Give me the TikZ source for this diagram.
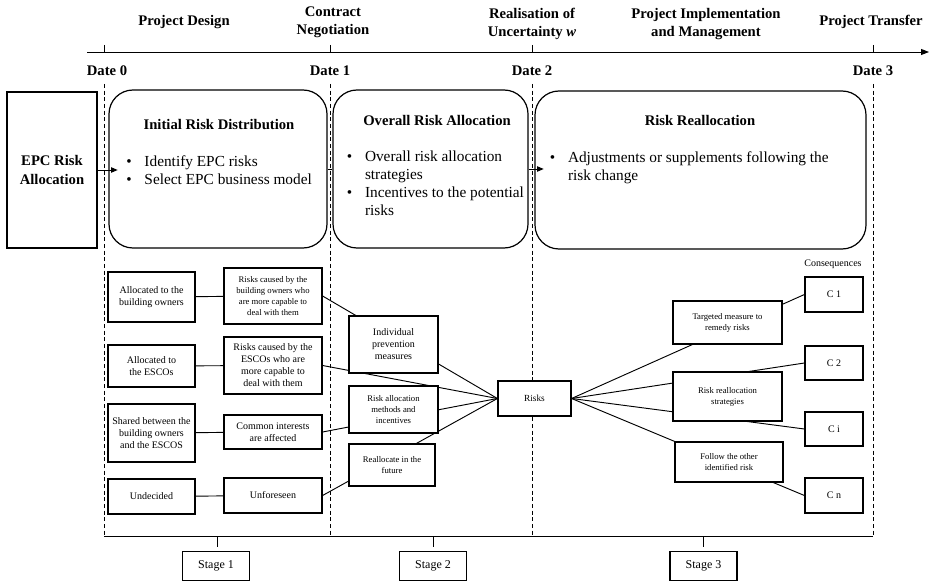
\documentclass[tikz,border=0pt]{standalone}
\usepackage{fontspec}
\setmainfont{Liberation Serif}
\usetikzlibrary{arrows.meta}

\begin{document}
\begin{tikzpicture}[x=0.75pt, y=-0.75pt, line width=0.7pt,
  wh/.style 2 args={minimum width=#1*0.75pt, minimum height=#2*0.75pt},
  head/.style={font=\fontsize{11}{13.5}\selectfont\bfseries, align=center, inner sep=0pt},
  bigbox/.style={draw, line width=0.9pt, rounded corners=18pt},
  boxtitle/.style={font=\fontsize{11}{13.5}\selectfont\bfseries, inner sep=0pt},
  items/.style={font=\fontsize{11.5}{13.5}\selectfont, anchor=base west, inner sep=0pt},
  box/.style={draw, line width=0.9pt, fill=white, align=center, inner sep=1pt, font=\fontsize{7.5}{9}\selectfont},
  smallbox/.style={box, font=\fontsize{6.5}{8.2}\selectfont},
  stagebox/.style={draw, line width=0.9pt, font=\fontsize{9}{11}\selectfont, wh={67}{29}},
  arrow/.style={-{Triangle[length=5pt,width=4pt]}, shorten >=-7pt},
  guide/.style={dash pattern=on 3pt off 2pt}
]
\useasboundingbox (0,0) rectangle (936,581);

\node[head] (Design) at (184,22) {Project Design};
\node[head] (Negotiation) at (333,22) {Contract\\Negotiation};
\node[head] (Uncertainty) at (532,24) {Realisation of\\Uncertainty \textit{w}};
\node[head] (Implementation) at (706,24) {Project Implementation\\and Management};
\node[head] (Transfer) at (871,22) {Project Transfer};

\node[head] (Date0) at (107,71) {Date 0};
\node[head] (Date1) at (330,71) {Date 1};
\node[head] (Date2) at (532,71) {Date 2};
\node[head] (Date3) at (873,71) {Date 3};

\coordinate (TimeStart) at (87,52);
\coordinate (TimeEnd) at (929,52);
\draw[-{Triangle[length=6pt,width=4.5pt]}] (TimeStart) -- (TimeEnd);
\foreach \x in {104,330,532,873} {
  \draw (\x,45) -- (\x,53);
  \draw[guide] (\x,84) -- (\x,536);
}
\draw (104,536) -- (873,536);
\foreach \x in {217,433,703} \draw (\x,536) -- (\x,547);

\node[stagebox] (Stage1) at (216,566) {Stage 1};
\node[stagebox] (Stage2) at (433,566) {Stage 2};
\node[stagebox] (Stage3) at (703.5,566) {Stage 3};

\node[draw, line width=0.9pt, wh={90}{156}, align=center, font=\fontsize{11}{14}\selectfont\bfseries] (EPC) at (52,170) {EPC Risk\\Allocation};

\node[bigbox, wh={218}{158}] (RiskDistribution) at (218,169) {};
\node[boxtitle] (DistributionTitle) at (219,125) {Initial Risk Distribution};
\node[items] (DistributionItems) at (126,166.5) {\begin{tabular}[t]{@{}l@{\hspace{9.5pt}}l@{}}
  \textbullet & Identify EPC risks\\
  \textbullet & Select EPC business model
\end{tabular}};

\node[bigbox, wh={195}{158}] (OverallAllocation) at (430.5,169) {};
\node[boxtitle] (OverallTitle) at (437,120) {Overall Risk Allocation};
\node[items] (OverallItems) at (346.5,161.5) {\begin{tabular}[t]{@{}l@{\hspace{9.5pt}}l@{}}
  \textbullet & Overall risk allocation\\
              & strategies\\
  \textbullet & Incentives to the potential\\
              & risks
\end{tabular}};

\node[bigbox, wh={331}{158}] (Reallocation) at (700.5,170) {};
\node[boxtitle] (ReallocationTitle) at (700,120) {Risk Reallocation};
\node[items] (ReallocationItems) at (549.5,162.5) {\begin{tabular}[t]{@{}l@{\hspace{9.5pt}}l@{}}
  \textbullet & Adjustments or supplements following the\\
              & risk change
\end{tabular}};

\draw[arrow] (EPC.east) -- (EPC.east -| RiskDistribution.west);
\draw (RiskDistribution.east) -- (OverallAllocation.west);
\draw[arrow] (OverallAllocation.east) -- (OverallAllocation.east -| Reallocation.west);

\node[box, wh={87}{50}] (Owners) at (151.5,297) {Allocated to the\\building owners};
\node[box, wh={87}{42}] (Escos) at (151.5,366) {Allocated to\\the ESCOs};
\node[box, wh={87}{58}] (Shared) at (151.5,433) {Shared between the\\building owners\\and the ESCOS};
\node[box, wh={87}{35}] (Undecided) at (151.5,496.5) {Undecided};

\node[smallbox, wh={98}{56}] (OwnerRisks) at (273,296) {Risks caused by the\\building owners who\\are more capable to\\deal with them};
\node[box, wh={98}{57}] (EscoRisks) at (273,365.5) {Risks caused by the\\ESCOs who are\\more capable to\\deal with them};
\node[box, wh={98}{34}] (Common) at (273,432) {Common interests\\are affected};
\node[box, wh={98}{35}] (Unforeseen) at (273,495.5) {Unforeseen};

\node[box, wh={73}{35}, font=\fontsize{7}{8.5}\selectfont] (Risks) at (534.5,398.5) {Risks};

\node[font=\fontsize{7.5}{9}\selectfont, inner sep=0pt] (Consequences) at (833,264) {Consequences};
\node[box, wh={58}{35}] (C1) at (834,294.5) {C 1};
\node[box, wh={58}{34}] (C2) at (834,363) {C 2};
\node[box, wh={58}{34}] (Ci) at (834,429) {C i};
\node[box, wh={58}{35}] (Cn) at (834,495.5) {C n};

\draw (Owners) -- (OwnerRisks);
\draw (Escos) -- (EscoRisks);
\draw (Shared) -- (Common);
\draw (Undecided) -- (Unforeseen);
\foreach \n in {OwnerRisks,EscoRisks,Common,Unforeseen} \draw (\n.east) -- (Risks.west);
\foreach \n in {C1,C2,Ci,Cn} \draw (Risks.east) -- (\n.west);

\node[box, wh={89}{57}] (Prevention) at (393.5,344.5) {Individual\\prevention\\measures};
\node[smallbox, wh={89}{47}] (Methods) at (393.5,409.5) {Risk allocation\\methods and\\incentives};
\node[smallbox, wh={86}{42}] (Future) at (392,465) {Reallocate in the\\future};

\node[smallbox, wh={109}{43}] (Targeted) at (727.5,322.5) {Targeted measure to\\remedy risks};
\node[smallbox, wh={109}{49}] (Strategies) at (727.5,396.5) {Risk reallocation\\strategies};
\node[smallbox, wh={108}{40}] (Follow) at (729,462) {Follow the other\\identified risk};

\end{tikzpicture}
\end{document}
